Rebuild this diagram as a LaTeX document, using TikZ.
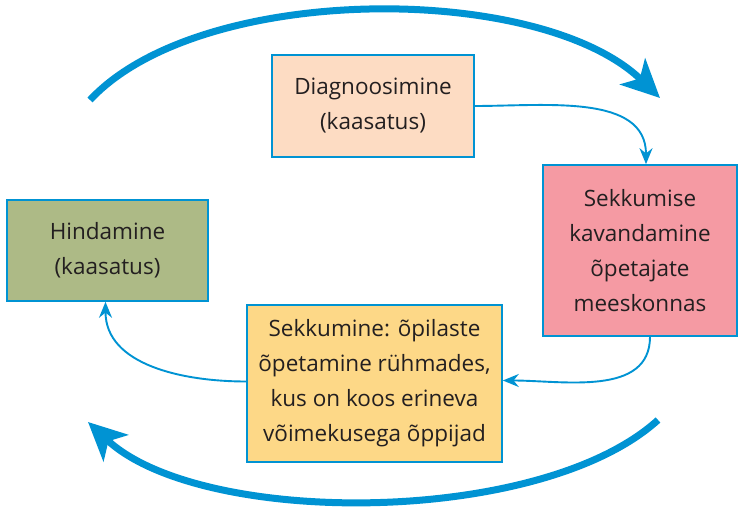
\documentclass[tikz,border=0pt]{standalone}
\usepackage{fontspec}
\setmainfont{Open Sans}
\usetikzlibrary{arrows.meta,positioning}
\definecolor{SKBlue}{HTML}{0093D3}
\definecolor{SKPeach}{HTML}{FDDCC3}
\definecolor{SKPink}{HTML}{F59AA3}
\definecolor{SKGreen}{HTML}{ADBA86}
\definecolor{SKYellow}{HTML}{FDD887}
\definecolor{SKInk}{HTML}{231F20}
\tikzset{
  box/.style={draw=SKBlue,line width=1.6pt,text=SKInk,align=center,
              font=\fontsize{22.5}{35}\selectfont,inner sep=0pt},
  flow/.style={-{Stealth[length=16pt,width=13pt]},SKBlue,line width=1.9pt},
  cycle/.style={-{Stealth[length=38pt,width=36pt,inset=10pt]},SKBlue,line width=7pt},
}
\begin{document}
\begin{tikzpicture}[x=1pt,y=1pt]
  \useasboundingbox (0,0) rectangle (739,514);
  % the four steps
  \node[box,fill=SKPeach,minimum width=202pt,minimum height=102pt] (diag) at (373,408)
    {Diagnoosimine\\(kaasatus)};
  \node[box,fill=SKPink,minimum width=194pt,minimum height=171pt] (plan) at (640,263.5)
    {Sekkumise\\kavandamine\\õpetajate\\meeskonnas};
  \node[box,fill=SKGreen,minimum width=201pt,minimum height=101pt] (hind) at (107.5,263.5)
    {Hindamine\\(kaasatus)};
  \node[box,fill=SKYellow,minimum width=255pt,minimum height=157pt] (sekk) at (374.5,130.5)
    {Sekkumine: õpilaste\\õpetamine rühmades,\\kus on koos erineva\\võimekusega õppijad};

  % big cycle arcs
  \coordinate (topA) at (90,414);
  \coordinate (topB) at (660,416);
  \coordinate (botA) at (658,94);
  \coordinate (botB) at (88,92);
  \draw[cycle] (topA) .. controls (200,532) and (540,532) .. (topB);
  \draw[cycle] (botA) .. controls (540,-13) and (200,-13) .. (botB);

  % step links
  \draw[flow] (diag.east) to[out=0,in=90] ([xshift=6pt]plan.north);
  \draw[flow] ([xshift=10pt]plan.south) to[out=-90,in=0] ([yshift=3pt]sekk.east);
  \draw[flow] ([yshift=2pt]sekk.west) to[out=180,in=-90] ([xshift=-2pt]hind.south);
\end{tikzpicture}
\end{document}
